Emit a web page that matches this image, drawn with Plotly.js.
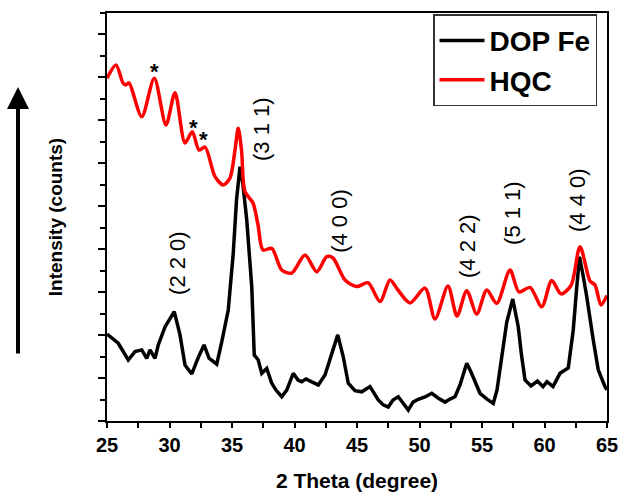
<!DOCTYPE html>
<html>
<head>
<meta charset="utf-8">
<script src="https://cdn.plot.ly/plotly-3.0.1.min.js"></script>
<style>html,body{margin:0;padding:0;background:#fff;}#chart{width:623px;height:497px;}</style>
</head>
<body>
<div id="chart"></div>
<script>
// 2 Theta (degree) and intensity (arbitrary units)
const dopX = [25.0,25.9,26.7,27.24,27.78,28.18,28.44,28.84,29.1,29.64,30.38,30.84,31.24,31.78,32.28,32.76,33.16,33.78,34.18,34.7,35.1,35.36,35.64,35.88,36.18,36.58,36.78,37.1,37.38,37.78,38.18,38.52,38.98,39.38,39.9,40.28,40.58,40.92,41.38,41.9,42.44,42.98,43.46,43.9,44.3,44.84,45.38,46.04,46.7,47.1,47.5,47.88,48.3,48.68,49.1,49.48,49.9,50.44,50.98,51.48,52.04,52.44,52.84,53.24,53.78,54.12,54.44,54.84,55.4,55.9,56.2,56.44,56.98,57.46,57.9,58.16,58.44,58.92,59.44,59.88,60.2,60.68,61.24,61.9,62.3,62.56,62.8,63.08,63.38,63.9,64.3,64.84,65.0];
const dopY = [4.05,3.62,2.84,3.23,3.31,2.92,3.31,2.92,3.54,4.38,5.09,4.01,2.61,2.19,2.93,3.54,2.93,2.65,3.69,5.17,7.81,10.29,11.84,10.99,9.36,6.26,3.07,2.84,2.22,2.45,1.76,1.44,1.13,1.44,2.22,1.91,1.83,1.96,1.82,1.68,2.14,3.15,4.01,2.99,1.76,1.41,1.36,1.6,0.98,0.75,0.65,0.98,1.13,0.84,0.51,0.88,1.01,1.12,1.29,1.07,0.88,1.02,1.13,1.68,2.69,2.28,1.83,1.29,1.02,0.82,1.44,2.38,4.61,5.68,4.39,3.07,1.91,1.63,1.86,1.6,1.83,1.6,2.22,2.47,4.24,6.1,7.65,6.8,5.79,3.77,2.38,1.6,1.45];
const hqcX = [25.0,25.72,26.28,26.5,26.76,27.78,28.78,29.72,30.44,31.24,31.82,32.36,32.84,33.64,34.3,34.84,35.24,35.5,35.76,36.04,36.68,37.08,37.48,38.18,38.98,39.78,40.84,41.78,42.58,43.08,44.04,44.98,45.88,46.84,47.64,48.28,49.24,50.44,51.24,52.28,53.0,53.78,54.58,55.38,56.18,57.24,57.96,58.84,59.78,60.58,61.32,62.12,62.84,63.64,64.04,64.52,65.0];
const hqcY = [15.96,16.58,15.74,15.65,15.74,14.17,15.96,13.79,15.29,12.95,13.47,12.62,12.76,11.38,10.99,11.32,12.62,13.63,12.62,10.68,10.15,9.13,7.96,8.04,7.03,6.89,7.73,6.95,7.65,7.59,6.57,6.26,6.44,5.56,6.57,6.1,5.5,6.19,4.75,6.29,4.89,6.07,4.98,6.1,5.48,7.03,6.01,6.22,5.32,6.54,5.92,6.31,8.12,6.52,6.33,5.4,5.85];
const xTicks = [25,30,35,40,45,50,55,60,65];
const peakLabels = ["(2 2 0)","(3 1 1)","(4 0 0)","(4 2 2)","(5 1 1)","(4 4 0)"];
const peakX = [30.68,37.4,43.64,53.88,57.48,62.6];
const peakY = [7.36,13.6,9.32,8.15,9.69,10.29];
const starX = [28.76,31.88,32.72];
const starY = [16.26,13.69,13.11];

const FONT = "Liberation Sans, Arial, Helvetica, sans-serif";

const traces = [
  {x: dopX, y: dopY, name: "DOP Fe", type: "scatter", mode: "lines",
   line: {color: "#000000", width: 3.5}},
  {x: hqcX, y: hqcY, name: "HQC", type: "scatter", mode: "lines",
   line: {color: "#ff0000", width: 3.5, shape: "spline", smoothing: 0.8}}
];

const annotations = [];
peakLabels.forEach((t, i) => annotations.push({
  x: peakX[i], y: peakY[i], xref: "x", yref: "y", text: t, showarrow: false,
  textangle: -90, font: {family: FONT, size: 22, color: "#000", weight: "normal"}
}));
starX.forEach((sx, i) => annotations.push({
  x: sx, y: starY[i], xref: "x", yref: "y", text: "*", showarrow: false,
  font: {family: FONT, size: 22, color: "#000", weight: "bold"}
}));
annotations.push({
  x: -0.178, y: 0.8186, xref: "paper", yref: "paper", text: "",
  showarrow: true, ax: 0, ay: 268, arrowhead: 2, arrowsize: 1.1, arrowwidth: 4,
  arrowcolor: "#000"
});

const layout = {
  width: 623, height: 497,
  margin: {l: 107, r: 16, t: 13, b: 76},
  paper_bgcolor: "#fff", plot_bgcolor: "#fff",
  font: {family: FONT, color: "#000", weight: "bold"},
  showlegend: true,
  legend: {
    x: 0.98, xanchor: "right", y: 0.997, yanchor: "top",
    bgcolor: "#fff", bordercolor: "#333", borderwidth: 1.5, itemwidth: 45,
    font: {family: FONT, size: 28, color: "#000", weight: "bold"}
  },
  xaxis: {
    range: [25, 65], tickvals: xTicks, ticktext: xTicks.map(String),
    ticks: "outside", ticklen: 5, tickwidth: 2, tickcolor: "#000",
    minor: {dtick: 2.5, ticks: "outside", ticklen: 5, tickwidth: 2, tickcolor: "#000"},
    showline: true, linewidth: 2, linecolor: "#000", mirror: true,
    showgrid: false, zeroline: false,
    tickfont: {family: FONT, size: 20, color: "#000", weight: "bold"},
    title: {text: "2 Theta (degree)", standoff: 18,
            font: {family: FONT, size: 21, color: "#000", weight: "bold"}}
  },
  yaxis: {
    range: [0, 19], tick0: 0, dtick: 2, showticklabels: false,
    ticks: "outside", ticklen: 7, tickwidth: 2, tickcolor: "#000",
    minor: {dtick: 1, ticks: "outside", ticklen: 5, tickwidth: 2, tickcolor: "#000"},
    showline: true, linewidth: 2, linecolor: "#000", mirror: true,
    showgrid: false, zeroline: false,
    title: {text: "Intensity (counts)", standoff: 30,
            font: {family: FONT, size: 19, color: "#000", weight: "bold"}}
  },
  annotations: annotations
};

Plotly.newPlot("chart", traces, layout, {displayModeBar: false, staticPlot: true});
</script>
</body>
</html>
